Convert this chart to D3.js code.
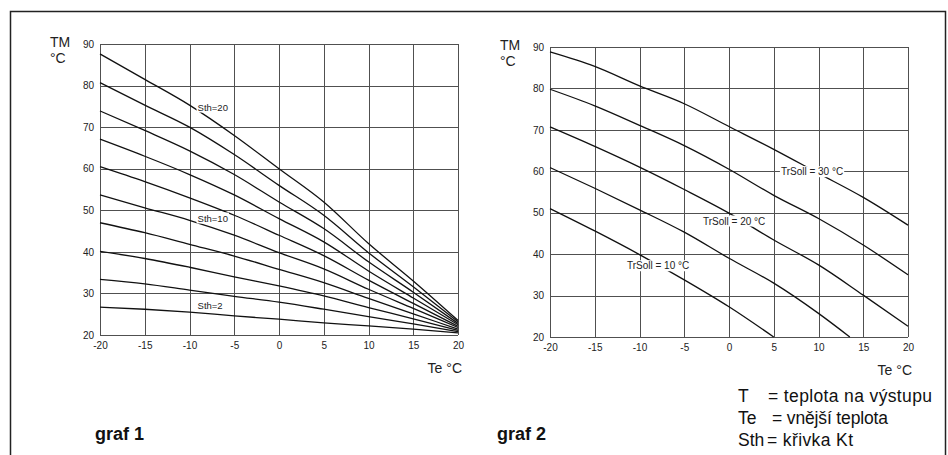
<!DOCTYPE html>
<html>
<head>
<meta charset="utf-8">
<script src="https://cdn.jsdelivr.net/npm/d3@7"></script>
<style>
  html, body { margin: 0; padding: 0; background: #fff; }
  svg { display: block; font-family: "Liberation Sans", Arial, Helvetica, sans-serif; }
</style>
</head>
<body>
<svg id="chart" width="948" height="455"></svg>
<script>
// Outdoor temperature axis (Te, °C) and flow temperature ticks (TM, °C)
const teTicks = [-20, -15, -10, -5, 0, 5, 10, 15, 20];
const tmTicks = [20, 30, 40, 50, 60, 70, 80, 90];

// graf 1: heating curves Sth = 2 … 20, sampled at teTicks
const sth2  = [26.7, 26.2, 25.5, 24.6, 23.8, 22.9, 22.2, 21.4, 20.5];
const sth4  = [33.4, 32.3, 30.8, 29.3, 27.9, 26.2, 24.4, 22.7, 20.8];
const sth6  = [40.1, 38.4, 36.3, 34.0, 31.8, 29.4, 26.6, 23.9, 21.1];
const sth8  = [47.0, 44.6, 41.8, 39.0, 35.8, 32.6, 28.8, 25.1, 21.4];
const sth10 = [53.7, 50.6, 47.6, 44.0, 39.8, 35.9, 31.0, 26.4, 21.8];
const sth12 = [60.5, 56.9, 53.0, 48.8, 44.0, 39.1, 33.2, 27.6, 22.1];
const sth14 = [67.1, 63.0, 58.6, 53.7, 48.0, 42.4, 35.4, 28.9, 22.5];
const sth16 = [73.9, 69.2, 64.3, 58.6, 52.0, 45.6, 37.6, 30.3, 22.8];
const sth18 = [80.7, 75.3, 70.0, 63.4, 56.0, 48.8, 39.8, 31.6, 23.2];
const sth20 = [87.6, 81.5, 75.3, 68.0, 60.0, 52.0, 42.0, 33.0, 23.5];

// graf 2: curves for room set-points TrSoll (the lower ones stop at TM = 20)
const trSoll30 = [88.8, 85.3, 80.6, 76.3, 70.8, 65.3, 59.5, 53.7, 47.0];
const trSoll25 = [79.8, 75.8, 71.1, 66.2, 60.5, 54.2, 48.6, 42.2, 35.0];
const trSoll20 = [70.7, 66.0, 61.0, 55.6, 49.9, 43.4, 37.4, 30.1, 22.6];
const trSoll15Te = [-20, -15, -10, -5, 0, 5, 10, 13.5];
const trSoll15 = [60.9, 55.9, 50.7, 45.3, 39.0, 33.0, 25.7, 20.0];
const trSoll10Te = [-20, -15, -10, -5, 0, 5];
const trSoll10 = [51.0, 45.6, 39.9, 33.8, 27.3, 20.0];

// Curve annotations: text, Te of its left edge, TM of its middle
const graf1Notes = [
  { text: "Sth=20", te: -9.1, tm: 74.8 },
  { text: "Sth=10", te: -9.1, tm: 48.1 },
  { text: "Sth=2",  te: -9.1, tm: 27.0 }
];
const graf2Notes = [
  { text: "TrSoll = 30 °C", te: 5.8,   tm: 59.9 },
  { text: "TrSoll = 20 °C", te: -2.9,  tm: 48.0 },
  { text: "TrSoll = 10 °C", te: -11.4, tm: 37.2 }
];

// Legend and captions
const legendKeys = ["T", "Te", "Sth"];
const legendText = ["= teplota na výstupu", "= vnější teplota", "= křivka Kt"];
const captions = ["graf 1", "graf 2"];

const graf1Series = [sth2, sth4, sth6, sth8, sth10, sth12, sth14, sth16, sth18, sth20]
  .map(v => v.map((tm, i) => ({ te: teTicks[i], tm })));
const graf2Series = [
  trSoll30.map((tm, i) => ({ te: teTicks[i], tm })),
  trSoll25.map((tm, i) => ({ te: teTicks[i], tm })),
  trSoll20.map((tm, i) => ({ te: teTicks[i], tm })),
  trSoll15.map((tm, i) => ({ te: trSoll15Te[i], tm })),
  trSoll10.map((tm, i) => ({ te: trSoll10Te[i], tm }))
];

const svg = d3.select("#chart");

// outer frame
svg.append("rect")
  .attr("x", 10.5).attr("y", 11.5)
  .attr("width", 935).attr("height", 460)
  .attr("fill", "none").attr("stroke", "#222").attr("stroke-width", 1.5);

function drawPanel(box, series, notes) {
  const x = d3.scaleLinear().domain([-20, 20]).range([box.left, box.right]);
  const y = d3.scaleLinear().domain([20, 90]).range([box.bottom, box.top]);
  const g = svg.append("g");

  // grid
  g.append("g").selectAll("line").data(teTicks).join("line")
    .attr("x1", d => Math.round(x(d)) + 0.5).attr("x2", d => Math.round(x(d)) + 0.5)
    .attr("y1", y(20)).attr("y2", y(90))
    .attr("stroke", "#505050").attr("stroke-width", 1);
  g.append("g").selectAll("line").data(tmTicks).join("line")
    .attr("y1", d => Math.round(y(d)) + 0.5).attr("y2", d => Math.round(y(d)) + 0.5)
    .attr("x1", x(-20)).attr("x2", x(20))
    .attr("stroke", "#505050").attr("stroke-width", 1);

  // axes (labels only, plain hyphen for negatives)
  const ax = g.append("g")
    .attr("transform", `translate(0,${box.bottom})`)
    .call(d3.axisBottom(x).tickValues(teTicks).tickFormat(d => `${d}`)
      .tickSize(0).tickPadding(7));
  const ay = g.append("g")
    .attr("transform", `translate(${box.left},0)`)
    .call(d3.axisLeft(y).tickValues(tmTicks).tickFormat(d => `${d}`)
      .tickSize(0).tickPadding(6));
  [ax, ay].forEach(a => {
    a.select(".domain").remove();
    a.selectAll("text").attr("font-size", 10).attr("fill", "#222")
      .attr("font-family", "Liberation Sans, Arial, sans-serif");
  });

  // curves
  const line = d3.line().curve(d3.curveMonotoneX).x(d => x(d.te)).y(d => y(d.tm));
  g.append("g").selectAll("path").data(series).join("path")
    .attr("d", line).attr("fill", "none")
    .attr("stroke", "#111").attr("stroke-width", 1.3)
    .attr("stroke-linejoin", "round");

  // annotations with white backing
  const ng = g.append("g");
  notes.forEach(n => {
    const t = ng.append("text")
      .attr("x", x(n.te)).attr("y", y(n.tm))
      .attr("dy", "0.35em")
      .attr("font-size", box.noteSize).attr("fill", "#222")
      .text(n.text);
    const b = t.node().getBBox();
    ng.insert("rect", () => t.node())
      .attr("x", b.x - 1).attr("y", b.y)
      .attr("width", b.width + 2).attr("height", b.height)
      .attr("fill", "#fff");
  });

  // axis titles
  g.append("text").attr("x", box.left - 50).attr("y", box.top + 3)
    .attr("font-size", 14).attr("fill", "#222").text("TM");
  g.append("text").attr("x", box.left - 50).attr("y", box.top + 19)
    .attr("font-size", 14).attr("fill", "#222").text("°C");
  g.append("text").attr("x", box.right + 4).attr("y", box.bottom + 38)
    .attr("text-anchor", "end")
    .attr("font-size", 14).attr("fill", "#222").text("Te °C");
  return { x, y };
}

drawPanel({ left: 100, right: 458, top: 44, bottom: 335, noteSize: 9.5 }, graf1Series, graf1Notes);
drawPanel({ left: 550, right: 908, top: 47, bottom: 337, noteSize: 10 }, graf2Series, graf2Notes);

// captions
svg.selectAll("text.caption").data(captions).join("text")
  .attr("class", "caption")
  .attr("x", (d, i) => [95, 497][i]).attr("y", 440)
  .attr("font-size", 18).attr("font-weight", "bold").attr("fill", "#111")
  .text(d => d);

// legend
const lg = svg.append("g").attr("font-size", 17.5).attr("fill", "#111");
const descX = [768, 772, 767];
const descW = [164, 116, 86];
legendKeys.forEach((k, i) => {
  const yy = 402 + i * 22;
  lg.append("text").attr("x", 738).attr("y", yy).text(k);
  lg.append("text").attr("x", descX[i]).attr("y", yy)
    .attr("textLength", descW[i]).attr("lengthAdjust", "spacing")
    .text(legendText[i]);
});
</script>
</body>
</html>
